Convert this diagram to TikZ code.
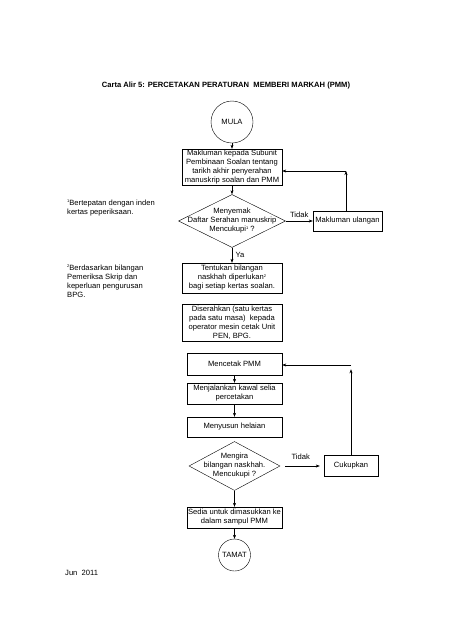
\documentclass[tikz,border=0pt]{standalone}
\usepackage{fontspec}
\setmainfont{Liberation Sans}
\usetikzlibrary{arrows.meta,shapes.geometric,calc}
\newcommand\tinysup[1]{\raisebox{2.8pt}{\fontsize{4}{4}\selectfont #1}}

\begin{document}
\begin{tikzpicture}[x=1pt,y=-1pt,>={Stealth[length=4pt,width=3pt]},
    font=\fontsize{7.6}{9}\selectfont,
    box/.style={draw,align=center,inner sep=0pt},
    dec/.style={draw,diamond,inner sep=0pt},
    term/.style={draw,circle,inner sep=0pt},
    note/.style={anchor=north west,align=left,inner sep=0pt}]
    \useasboundingbox (0,0) rectangle (452,640);
    \node[font=\fontsize{7.6}{9}\selectfont\bfseries] (title) at (226,86) {Carta Alir 5: PERCETAKAN PERATURAN\ \ MEMBERI MARKAH (PMM)};
    \node[term,minimum size=42] (mula) at (232,122) {MULA};
    \node[box,minimum width=100,minimum height=36] (mkl) at (232,167) {Makluman kepada Subunit\\Pembinaan Soalan tentang\\tarikh akhir penyerahan\\manuskrip soalan dan PMM};
    \node[dec,minimum width=107,minimum height=53] (chk1) at (232,221) {};
    \node[align=center,inner sep=0pt] (chk1t) at (chk1) {Menyemak\\Daftar Serahan manuskrip\\Mencukupi\tinysup{1} ?};
    \node[box,minimum width=69,minimum height=20] (ulang) at (347.5,221) {Makluman ulangan};
    \node[box,minimum width=100,minimum height=30] (tent) at (232,278) {Tentukan bilangan\\naskhah diperlukan\tinysup{2}\\bagi setiap kertas soalan.};
    \node[box,minimum width=100,minimum height=37] (srh) at (232,322.5) {Diserahkan (satu kertas\\pada satu masa)\ \ kepada\\operator mesin cetak Unit\\PEN, BPG.};
    \node[box,minimum width=95,minimum height=22] (cetak) at (234.5,364) {Mencetak PMM};
    \node[box,minimum width=95,minimum height=21] (kawal) at (234.5,393.5) {Menjalankan kawal selia\\percetakan};
    \node[box,minimum width=95,minimum height=20] (susun) at (234.5,427) {Menyusun helaian};
    \node[dec,minimum width=91,minimum height=49] (chk2) at (234.5,466) {};
    \node[align=center,inner sep=0pt] (chk2t) at (chk2) {Mengira\\bilangan naskhah.\\Mencukupi ?};
    \node[box,minimum width=54,minimum height=21] (cukup) at (351,466) {Cukupkan};
    \node[box,minimum width=95,minimum height=21] (sedia) at (234.5,517.5) {Sedia untuk dimasukkan ke\\dalam sampul PMM};
    \node[term,minimum size=32] (tamat) at (234.5,555) {TAMAT};
    \node[note] (fn1) at (67,200) {\tinysup{1}Bertepatan dengan inden\\kertas peperiksaan.};
    \node[note] (fn2) at (67,265) {\tinysup{2}Berdasarkan bilangan\\Pemeriksa Skrip dan\\keperluan pengurusan\\BPG.};
    \node[anchor=west,inner sep=0pt] (tarikh) at (65,573) {Jun\ \ 2011};
    \coordinate (fb1) at (346,171);
    \coordinate (fb2) at (351,365);
    \draw[->] (mula) -- (mkl);
    \draw[->] (mkl) -- (chk1.north);
    \draw[->] (chk1.east) -- (ulang) node[midway,above] {Tidak};
    \draw[->] (ulang.north -| fb1) -- (fb1);
    \draw[->] (fb1) -- (fb1 -| mkl.east);
    \draw[->] (chk1.south) -- (tent) node[midway,right] {Ya};
    \draw[->] (cetak) -- (kawal);
    \draw[->] (kawal) -- (susun);
    \draw[->] (chk2.east) ++(5,0) -- ($(cukup.west)+(-4,0)$) node[pos=0.45,above=3pt] {Tidak};
    \draw[->] (cukup.north) -- ++(0,-86);
    \draw[->] (fb2) -- (fb2 -| cetak.east);
    \draw[->] (chk2.south) -- (sedia);
    \draw[->] (sedia) -- (tamat);
\end{tikzpicture}
\end{document}
